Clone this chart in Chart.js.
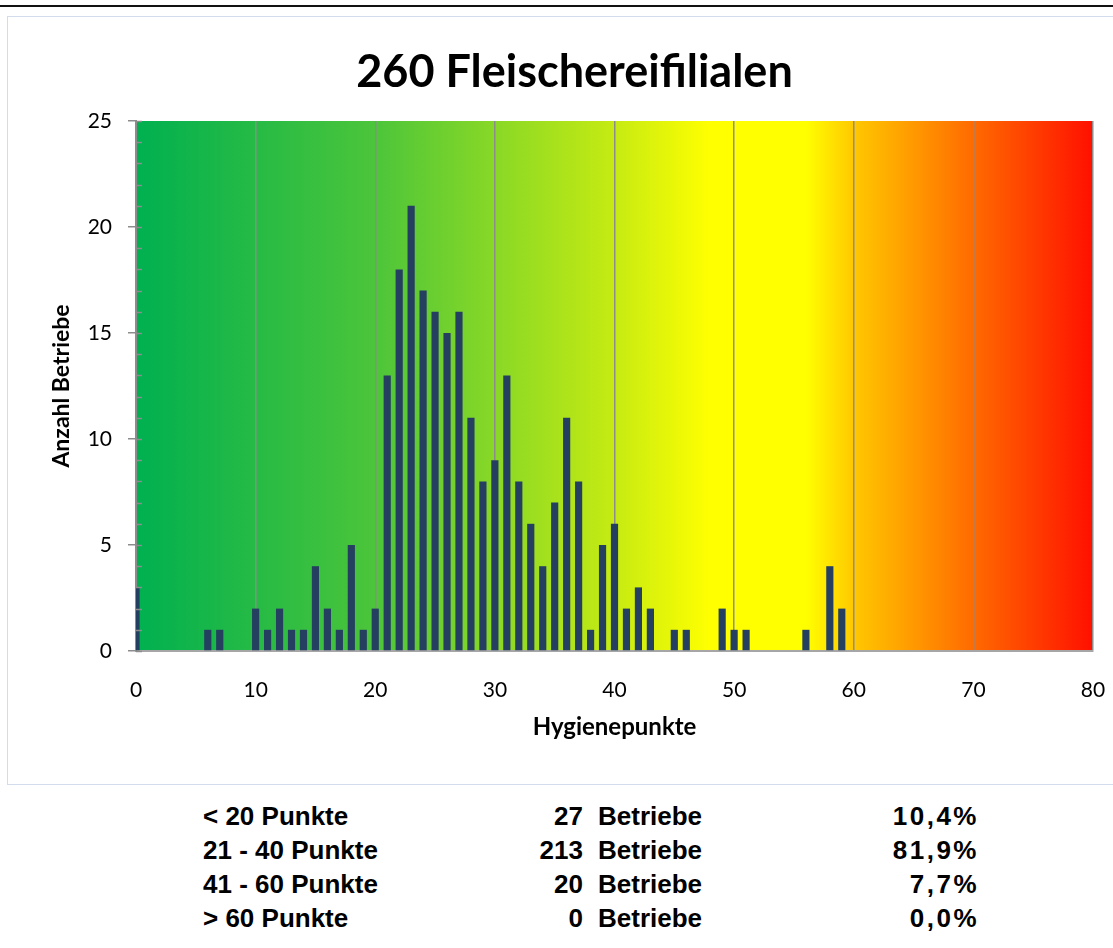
<!DOCTYPE html>
<html>
<head>
<meta charset="utf-8">
<script src="https://cdn.jsdelivr.net/npm/chart.js@4/dist/chart.umd.min.js"></script>
<style>
  html, body { margin: 0; padding: 0; background: #fff; width: 1113px; height: 948px; overflow: hidden; position: relative; }
  #topline { position: absolute; left: 0; top: 5px; width: 1113px; height: 2px; background: #111; }
  #frame { position: absolute; left: 7px; top: 16px; width: 1140px; height: 769px; border: 1px solid #d3dcec; box-sizing: border-box; }
  #wrap { position: absolute; left: 8px; top: 17px; width: 1133px; height: 767px; }
  #summary { position: absolute; left: 0; top: 799px; width: 1113px; font-family: "Liberation Sans", Arial, sans-serif; font-weight: bold; font-size: 26px; color: #000; }
  .row { position: relative; height: 34px; line-height: 34px; }
  .row span { position: absolute; white-space: nowrap; }
  .c1 { left: 203px; }
  .c2 { right: calc(1113px - 583px); text-align: right; }
  .c3 { left: 598px; }
  .c4 { right: calc(1113px - 979px); text-align: right; letter-spacing: 2.5px; }
</style>
</head>
<body>
<div id="topline"></div>
<div id="frame"></div>
<div id="wrap"><canvas id="chart" width="1133" height="767"></canvas></div>
<div id="summary"></div>
<script>
// ---- data ----
const chartTitle = "260 Fleischereifilialen";
const xAxisTitle = "Hygienepunkte";
const yAxisTitle = "Anzahl Betriebe";
const hygienePoints = [0, 6, 7, 10, 11, 12, 13, 14, 15, 16, 17, 18, 19, 20,
  21, 22, 23, 24, 25, 26, 27, 28, 29, 30, 31, 32, 33, 34, 35, 36, 37, 38, 39, 40,
  41, 42, 43, 45, 46, 49, 50, 51, 56, 58, 59];
const companyCounts = [3, 1, 1, 2, 1, 2, 1, 1, 4, 2, 1, 5, 1, 2,
  13, 18, 21, 17, 16, 15, 16, 11, 8, 9, 13, 8, 6, 4, 7, 11, 8, 1, 5, 6,
  2, 3, 2, 1, 1, 2, 1, 1, 1, 4, 2];
const xTickMin = 0, xTickMax = 80, xTickStep = 10;
const yTickMin = 0, yTickMax = 25, yTickStep = 5;
const rangeLabels = ["< 20 Punkte", "21 - 40 Punkte", "41 - 60 Punkte", "> 60 Punkte"];
const rangeCounts = [27, 213, 20, 0];
const rangeUnit = "Betriebe";
const rangePercents = ["10,4%", "81,9%", "7,7%", "0,0%"];

// ---- summary table ----
const summary = document.getElementById('summary');
rangeLabels.forEach((lab, i) => {
  const row = document.createElement('div');
  row.className = 'row';
  row.innerHTML = '<span class="c1"></span><span class="c2"></span><span class="c3"></span><span class="c4"></span>';
  row.children[0].textContent = lab;
  row.children[1].textContent = String(rangeCounts[i]);
  row.children[2].textContent = rangeUnit;
  row.children[3].textContent = rangePercents[i];
  summary.appendChild(row);
});

// ---- plugins ----
const gradientBg = {
  id: 'gradientBg',
  beforeDraw(chart) {
    const {ctx, chartArea: a} = chart;
    const g = ctx.createLinearGradient(a.left, 0, a.right, 0);
    g.addColorStop(0.00, '#00b050');
    g.addColorStop(0.25, '#4cc53a');
    g.addColorStop(0.50, '#c6eb12');
    g.addColorStop(0.60, '#ffff00');
    g.addColorStop(0.70, '#ffff00');
    g.addColorStop(0.75, '#ffc800');
    g.addColorStop(0.875, '#ff6a00');
    g.addColorStop(1.00, '#ff1000');
    ctx.save();
    ctx.fillStyle = g;
    ctx.fillRect(a.left, a.top, a.right - a.left, a.bottom - a.top);
    ctx.restore();
  }
};
const minorTicks = {
  id: 'minorTicks',
  afterDraw(chart) {
    const {ctx, chartArea: a} = chart;
    const y = chart.scales.y;
    ctx.save();
    ctx.strokeStyle = '#8c8c8c';
    ctx.lineWidth = 1.5;
    for (let v = y.min; v <= y.max; v += 1) {
      const py = Math.round(y.getPixelForValue(v)) + 0.5;
      ctx.beginPath();
      ctx.moveTo(a.left, py);
      ctx.lineTo(a.left + 6, py);
      ctx.stroke();
    }
    ctx.restore();
  }
};

const fam = 'Lato, "Open Sans", sans-serif';
const tickFont = { family: fam, size: 21 };
new Chart(document.getElementById('chart'), {
  type: 'bar',
  data: {
    datasets: [{
      data: hygienePoints.map((x, i) => ({ x: x, y: companyCounts[i] })),
      backgroundColor: '#243f60',
      borderWidth: 0,
      barPercentage: 0.6,
      categoryPercentage: 1.0
    }]
  },
  options: {
    responsive: false,
    animation: false,
    events: [],
    layout: { padding: { top: 0, left: 0, right: 0, bottom: 0 } },
    plugins: {
      legend: { display: false },
      tooltip: { enabled: false },
      title: {
        display: true,
        text: chartTitle,
        color: '#000',
        font: { family: fam, size: 45, weight: 'bold', lineHeight: 1.2 },
        padding: { top: 28, bottom: 22 }
      }
    },
    scales: {
      x: {
        type: 'linear',
        min: xTickMin, max: xTickMax,
        offset: false,
        ticks: { stepSize: xTickStep, color: '#000', font: tickFont, padding: 27, maxRotation: 0 },
        grid: { display: true, offset: false, color: '#8c8c8c', lineWidth: 1.5, drawTicks: false, drawOnChartArea: true },
        border: { display: true, color: '#a6a6a6', width: 2 },
        title: { display: true, text: xAxisTitle, color: '#000',
          font: { family: fam, size: 24, weight: 'bold', lineHeight: 1.2 },
          padding: { top: 0, bottom: 42 } },
        afterFit(s) { s.height = 133; s.paddingLeft = 0; s.paddingRight = 48; }
      },
      y: {
        min: yTickMin, max: yTickMax,
        ticks: { stepSize: yTickStep, color: '#000', font: tickFont, padding: 16 },
        grid: { display: true, drawOnChartArea: false, drawTicks: true, tickLength: 8, color: '#8c8c8c', lineWidth: 1.5 },
        border: { display: true, color: '#8c8c8c', width: 2 },
        title: { display: true, text: yAxisTitle, color: '#000',
          font: { family: fam, size: 23, weight: 'bold', lineHeight: 1.2 },
          padding: { top: 40, bottom: 0 } },
        afterFit(s) { s.width = 128; }
      }
    }
  },
  plugins: [gradientBg, minorTicks]
});
</script>
</body>
</html>
